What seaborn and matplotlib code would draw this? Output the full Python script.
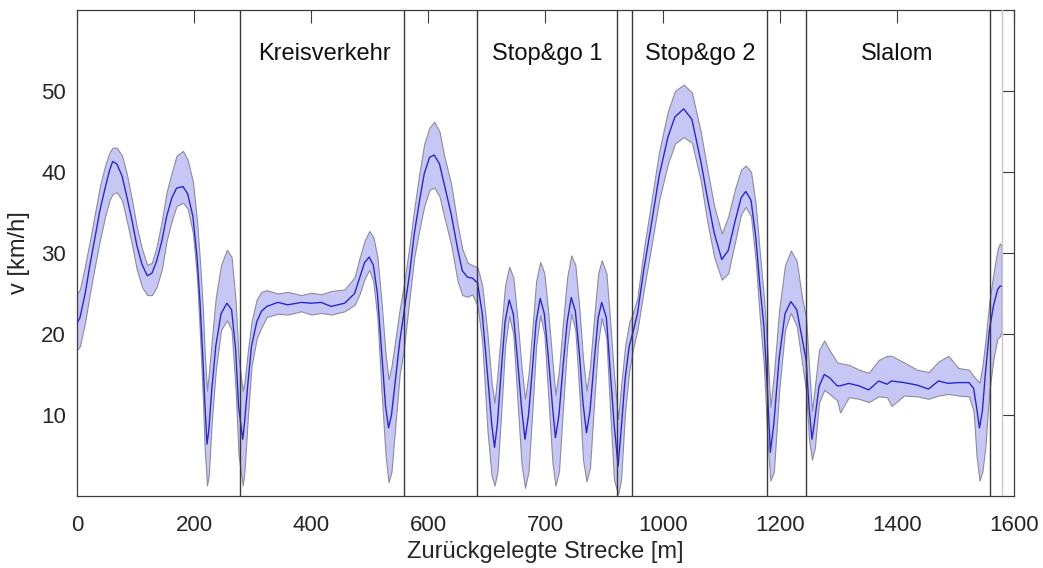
import matplotlib
matplotlib.use("Agg")
import matplotlib.pyplot as plt
import pandas as pd
import seaborn as sns

# Zurückgelegte Strecke [m] und Geschwindigkeit: Mittelwert mit Streuband
strecke = [0, 5, 14, 22, 31, 39, 48, 56, 61, 68, 77, 85, 94, 102, 111, 120, 128, 136,
           145, 153, 162, 170, 181, 189, 198, 205, 210, 215, 218, 222, 225, 230, 237,
           246, 256, 264, 271, 276, 283, 286, 292, 298, 307, 315, 324, 343, 360, 383,
           400, 417, 434, 457, 474, 483, 491, 499, 506, 513, 520, 527, 532, 537, 544,
           551, 558, 568, 576, 585, 593, 602, 610, 619, 627, 639, 650, 658, 667, 675,
           684, 692, 701, 708, 713, 718, 725, 731, 738, 745, 752, 759, 765, 771, 778,
           784, 791, 798, 805, 812, 817, 823, 830, 837, 844, 851, 858, 864, 870, 876,
           883, 890, 896, 904, 910, 917, 924, 929, 936, 943, 949, 957, 968, 980, 994,
           1009, 1021, 1036, 1050, 1065, 1076, 1088, 1101, 1112, 1124, 1134, 1142,
           1151, 1159, 1166, 1173, 1179, 1184, 1190, 1199, 1209, 1219, 1229, 1238,
           1245, 1250, 1255, 1260, 1267, 1276, 1285, 1298, 1303, 1318, 1335, 1352,
           1369, 1383, 1391, 1412, 1434, 1454, 1471, 1488, 1505, 1523, 1531, 1536,
           1541, 1546, 1551, 1558, 1565, 1572, 1576, 1579]

v_mittel = [21.3, 22.0, 25.0, 28.5, 32.0, 35.2, 38.0, 40.3, 41.3, 41.0, 39.5, 37.0, 34.0,
            31.0, 28.6, 27.2, 27.5, 29.0, 31.5, 34.5, 36.8, 38.0, 38.2, 37.3, 34.5, 29.5,
            24.0, 17.0, 12.0, 6.4, 8.0, 13.0, 18.5, 22.5, 23.8, 23.0, 18.0, 11.0, 7.0,
            9.0, 14.0, 18.5, 21.5, 22.8, 23.4, 23.9, 23.6, 23.9, 23.8, 23.9, 23.4, 23.8,
            25.0, 27.0, 28.8, 29.5, 28.5, 25.0, 18.0, 11.0, 8.4, 10.0, 14.5, 19.0, 22.5,
            27.5, 32.4, 36.5, 39.8, 41.8, 42.1, 41.0, 38.5, 34.8, 30.5, 27.8, 27.0, 26.9,
            26.3, 22.5, 15.0, 9.0, 6.0, 9.0, 16.0, 21.5, 24.2, 22.5, 17.0, 11.0, 7.0,
            10.0, 16.0, 21.5, 24.4, 22.5, 17.0, 11.0, 7.2, 10.0, 16.0, 21.5, 24.5, 22.8,
            17.5, 11.5, 7.8, 10.5, 16.5, 22.0, 23.9, 22.0, 16.0, 9.0, 3.7, 8.0, 14.5,
            18.5, 20.1, 22.5, 28.0, 33.2, 39.5, 44.3, 46.8, 47.8, 46.5, 41.4, 37.0, 32.5,
            29.2, 30.3, 34.0, 36.8, 37.6, 36.5, 32.0, 26.0, 20.9, 13.0, 5.4, 9.0, 17.0,
            22.5, 24.0, 23.0, 19.5, 16.8, 11.0, 7.0, 9.5, 13.5, 15.0, 14.6, 13.6, 13.6,
            13.9, 13.6, 13.1, 14.2, 13.8, 14.2, 14.0, 13.7, 13.2, 14.2, 13.9, 14.0, 14.0,
            13.3, 11.0, 8.4, 10.5, 15.0, 20.5, 23.5, 25.5, 25.9, 25.9]

v_oben = [25.0, 25.5, 28.5, 31.5, 35.0, 38.2, 40.8, 42.5, 43.0, 43.0, 42.0, 39.8, 36.5,
          33.3, 30.5, 28.5, 28.8, 30.8, 34.0, 37.5, 40.0, 42.0, 42.6, 41.5, 38.8, 34.0,
          29.0, 23.0, 18.0, 13.0, 15.0, 19.0, 24.5, 28.5, 30.4, 29.5, 24.0, 17.0, 13.0,
          14.0, 18.0, 21.5, 24.3, 25.2, 25.4, 25.0, 25.2, 24.8, 25.1, 24.9, 25.3, 25.5,
          27.0, 29.5, 31.5, 32.7, 32.0, 29.5, 24.0, 17.5, 14.4, 16.0, 19.5, 23.0, 26.0,
          31.0, 35.5, 40.0, 43.5, 45.5, 46.2, 45.0, 42.0, 38.5, 33.5, 30.5, 28.8, 28.5,
          28.2, 26.0, 20.0, 14.0, 11.5, 15.0, 21.0, 26.0, 28.3, 27.0, 22.0, 16.0, 12.0,
          15.0, 21.0, 26.5, 28.9, 27.5, 22.5, 16.5, 12.5, 15.5, 21.5, 27.0, 29.7, 28.5,
          23.0, 17.0, 13.0, 16.0, 22.0, 27.5, 29.1, 27.5, 22.0, 15.0, 9.5, 13.5, 18.5,
          21.5, 22.5, 24.5, 30.5, 36.0, 42.5, 47.5, 50.0, 50.8, 49.8, 45.0, 40.5, 35.8,
          32.4, 34.5, 38.0, 40.3, 40.8, 40.0, 36.0, 30.0, 24.5, 18.0, 11.0, 15.0, 23.0,
          28.5, 30.3, 29.0, 24.5, 22.0, 16.0, 10.5, 13.5, 18.0, 19.2, 18.0, 16.5, 16.4,
          16.2, 15.6, 15.2, 16.8, 17.3, 17.3, 16.5, 15.6, 15.3, 16.6, 17.3, 15.8, 15.6,
          14.8, 14.4, 14.0, 16.0, 19.0, 24.0, 27.5, 30.5, 31.2, 30.8]

v_unten = [18.0, 18.5, 21.5, 25.0, 28.5, 31.5, 34.5, 36.6, 37.3, 37.5, 36.5, 34.0, 31.0,
           28.0, 25.8, 24.8, 24.8, 25.8, 28.0, 31.5, 34.0, 35.8, 36.2, 35.5, 32.5, 27.0,
           20.0, 12.0, 6.0, 1.3, 2.5, 9.0, 15.5, 20.5, 21.7, 20.5, 13.0, 5.0, 1.3,
           3.0, 10.0, 16.0, 19.5, 20.8, 22.1, 22.5, 22.4, 22.8, 22.4, 22.6, 22.4, 22.8,
           23.6, 25.0, 26.8, 27.9, 26.5, 22.0, 13.0, 5.0, 1.7, 3.0, 9.0, 15.0, 18.0,
           24.5, 29.5, 33.0, 35.8, 37.8, 38.1, 37.0, 34.5, 31.0, 26.5, 24.8, 24.6, 24.9,
           23.5, 19.0, 8.0, 2.5, 1.3, 3.0, 11.0, 18.5, 22.2, 20.0, 12.0, 4.0, 1.0,
           3.0, 11.0, 18.5, 22.3, 20.0, 12.0, 4.0, 1.3, 3.0, 11.0, 18.5, 22.5, 20.5,
           12.5, 4.5, 1.8, 3.5, 11.5, 19.0, 22.0, 19.5, 11.0, 2.0, 0.2, 2.0, 10.5,
           15.5, 18.0, 20.5, 25.5, 30.5, 36.5, 41.0, 43.5, 44.3, 43.6, 39.0, 34.0, 29.5,
           26.7, 27.5, 31.5, 34.8, 35.7, 34.5, 29.0, 22.0, 16.0, 7.0, 1.9, 3.0, 13.0,
           20.5, 22.6, 21.0, 16.5, 13.0, 7.0, 4.5, 6.0, 11.5, 13.1, 12.6, 11.8, 10.3,
           12.2, 12.0, 11.6, 12.3, 12.2, 11.1, 12.4, 12.3, 12.0, 12.4, 12.6, 12.4, 12.3,
           10.5, 5.0, 1.9, 3.0, 6.0, 13.0, 17.0, 19.5, 19.7, 20.5]

# Abschnittsgrenzen und Beschriftungen
abschnitt_grenzen = [278, 558, 682.5, 922, 948.5, 1178.7, 1245, 1558.4]
strecken_ende = 1579
abschnitt_namen = ["Kreisverkehr", "Stop&go 1", "Stop&go 2", "Slalom"]
abschnitt_mitte = [423, 803, 1064, 1400]
abschnitt_hoehe = 54.6

x_ticks = [0, 200, 400, 600, 800, 1000, 1200, 1400, 1600]
x_ticklabels = ["0", "200", "400", "600", "700", "1000", "1200", "1400", "1600"]
y_ticks = [10, 20, 30, 40, 50]

sns.set_theme(style="white")
plt.rcParams["font.family"] = ["Liberation Sans", "DejaVu Sans"]
plt.rcParams["lines.solid_joinstyle"] = "round"

df = pd.DataFrame({"strecke": strecke, "mittel": v_mittel,
                   "oben": v_oben, "unten": v_unten})

fig = plt.figure(figsize=(10.43, 5.68), dpi=100)
ax = fig.add_axes([0.0738, 0.1268, 0.8984, 0.8556])

ax.fill_between(df["strecke"], df["unten"], df["oben"],
                facecolor="#c7c7f6", edgecolor="#8c8c9c", linewidth=0.8, zorder=1)
sns.lineplot(data=df, x="strecke", y="mittel", ax=ax, color="#2828d2",
             linewidth=1.0, zorder=3)

for g in abschnitt_grenzen:
    ax.axvline(g, color="#3a3a3a", linewidth=1.0, zorder=4)
ax.axvline(strecken_ende, color="#c8c8c8", linewidth=1.0, zorder=4)

for name, xm in zip(abschnitt_namen, abschnitt_mitte):
    ax.text(xm, abschnitt_hoehe, name, ha="center", va="center",
            fontsize=17, color="#111111")

ax.set_xlim(0, 1600)
ax.set_ylim(0, 60)
ax.set_xticks(x_ticks)
ax.set_xticklabels(x_ticklabels)
ax.set_yticks(y_ticks)

ax.tick_params(axis="both", direction="in", length=9, width=0.8,
               color="#3c3c3c", labelcolor="#262626", labelsize=16,
               top=True, right=True)
ax.tick_params(axis="x", pad=14)
ax.tick_params(axis="y", pad=8)
for s in ax.spines.values():
    s.set_color("#3c3c3c")
    s.set_linewidth(0.9)

ax.set_xlabel("Zurückgelegte Strecke [m]", fontsize=17, color="#262626", labelpad=3)
ax.set_ylabel("v [km/h]", fontsize=17, color="#262626", labelpad=8)

fig.savefig("out.png", dpi=100, facecolor="white")
